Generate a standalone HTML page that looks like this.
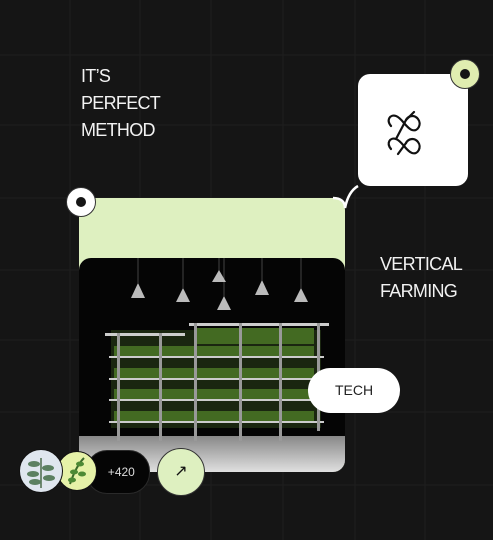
<!DOCTYPE html>
<html><head><meta charset="utf-8"><style>
body{margin:0;width:493px;height:540px;background:#151515;overflow:hidden;font-family:"Liberation Sans",sans-serif;position:relative}
.abs{position:absolute}
.t{color:#f2f2f2;font-size:18px;line-height:27px;letter-spacing:-0.7px}
</style></head><body>
<svg class="abs" style="left:0;top:0" width="493" height="540">
<g stroke="#1f1f1f" stroke-width="1">
<line x1="70" y1="0" x2="70" y2="540"/><line x1="140" y1="0" x2="140" y2="540"/><line x1="211" y1="0" x2="211" y2="540"/><line x1="283" y1="0" x2="283" y2="540"/><line x1="355" y1="0" x2="355" y2="540"/><line x1="425" y1="0" x2="425" y2="540"/>
<line x1="0" y1="55" x2="493" y2="55"/><line x1="0" y1="125" x2="493" y2="125"/><line x1="0" y1="198" x2="493" y2="198"/><line x1="0" y1="270" x2="493" y2="270"/><line x1="0" y1="340" x2="493" y2="340"/><line x1="0" y1="412" x2="493" y2="412"/><line x1="0" y1="485" x2="493" y2="485"/>
</g>
</svg>
<div class="abs t" style="left:81px;top:63px">IT’S<br>PERFECT<br>METHOD</div>
<div class="abs" style="left:358px;top:74px;width:110px;height:112px;background:#fff;border-radius:12px">
<svg width="110" height="112"><g fill="none" stroke="#111" stroke-width="2.2" stroke-linecap="round">
<path d="M33 52 C28 46 32 40 38 42 C44 44 48 54 54 56 C60 58 64 50 60 45 C56 40 50 42 48 46"/>
<path d="M33 75 C28 69 32 63 38 65 C44 67 48 77 54 79 C60 81 64 73 60 68 C56 63 50 65 48 69"/>
<path d="M48 46 L38 65 M48 69 L40 80 M56 38 L48 46"/></g></svg>
</div>
<div class="abs" style="left:450px;top:59px;width:28px;height:28px;border-radius:50%;background:#e0edb0;border:1px solid #333"><div class="abs" style="left:9px;top:9px;width:10px;height:10px;border-radius:50%;background:#151515"></div></div>
<div class="abs" style="left:79px;top:198px;width:266px;height:274px;background:#def0c0;border-radius:12px">
<div class="abs" style="left:0;top:60px;width:266px;height:214px;background:#050505;border-radius:12px;overflow:hidden">
<div class="abs" style="left:0;top:178px;width:266px;height:36px;background:linear-gradient(#888,#e0e0e0)"></div>
<svg class="abs" style="left:0;top:0" width="266" height="214">
<g stroke="#444" stroke-width="1"><line x1="59" y1="0" x2="59" y2="25"/><line x1="104" y1="0" x2="104" y2="30"/><line x1="140" y1="0" x2="140" y2="15"/><line x1="145" y1="0" x2="145" y2="38"/><line x1="183" y1="0" x2="183" y2="22"/><line x1="222" y1="0" x2="222" y2="30"/></g>
<g fill="#bbb"><path d="M52 40 L59 25 L66 40Z"/><path d="M97 44 L104 30 L111 44Z"/><path d="M133 24 L140 12 L147 24Z"/><path d="M138 52 L145 38 L152 52Z"/><path d="M176 37 L183 22 L190 37Z"/><path d="M215 44 L222 30 L229 44Z"/></g>
<rect x="32" y="72" width="210" height="98" fill="#1a2610"/>
<g fill="#436a22"><rect x="35" y="88" width="200" height="10"/><rect x="35" y="110" width="200" height="10"/><rect x="35" y="131" width="200" height="10"/><rect x="35" y="153" width="200" height="10"/><rect x="115" y="70" width="120" height="16"/></g>
<g fill="#ccc"><rect x="26" y="75" width="80" height="3"/><rect x="110" y="65" width="140" height="3"/><rect x="30" y="98" width="215" height="2"/><rect x="30" y="120" width="215" height="2"/><rect x="30" y="141" width="215" height="2"/><rect x="30" y="163" width="215" height="2"/></g>
<g fill="#999"><rect x="38" y="75" width="3" height="108"/><rect x="80" y="75" width="3" height="108"/><rect x="115" y="65" width="3" height="118"/><rect x="160" y="65" width="3" height="118"/><rect x="200" y="65" width="3" height="118"/><rect x="238" y="65" width="3" height="108"/></g>
</svg>
</div>
</div>
<svg class="abs" style="left:325px;top:180px" width="40" height="30"><path d="M8 18 C16 18 20 22 20 28 C22 18 26 10 33 6" fill="none" stroke="#fff" stroke-width="2.5"/></svg>
<div class="abs" style="left:66px;top:187px;width:28px;height:28px;border-radius:50%;background:#fff;border:1px solid #333"><div class="abs" style="left:9px;top:9px;width:10px;height:10px;border-radius:50%;background:#151515"></div></div>
<div class="abs t" style="left:380px;top:251px">VERTICAL<br>FARMING</div>
<div class="abs" style="left:308px;top:368px;width:92px;height:45px;background:#fff;border-radius:23px;color:#222;font-size:14px;line-height:45px;text-align:center">TECH</div>
<div class="abs" style="left:86px;top:450px;width:62px;height:42px;background:#050505;border-radius:21px;color:#ddd;font-size:12px;line-height:42px;text-align:center;border:1px solid #2a2a2a">&nbsp;&nbsp;+420</div>
<div class="abs" style="left:57px;top:451px;width:38px;height:38px;border-radius:50%;background:#e6f2a8;border:1px solid #111"><svg width="38" height="38"><path d="M12 32 C16 20 20 12 26 6" stroke="#3a6a2a" stroke-width="2" fill="none"/><g fill="#4d8a35"><ellipse cx="22" cy="12" rx="4" ry="2.5"/><ellipse cx="16" cy="20" rx="4" ry="2.5"/><ellipse cx="24" cy="22" rx="4" ry="2.5"/><ellipse cx="14" cy="28" rx="4" ry="2.5"/></g></svg></div>
<div class="abs" style="left:19px;top:449px;width:42px;height:42px;border-radius:50%;background:#dfe6ee;border:1px solid #111"><svg width="42" height="42"><path d="M21 38 L21 8" stroke="#4a6a4a" stroke-width="1.5"/><g fill="#5b8060"><ellipse cx="14" cy="14" rx="6" ry="3"/><ellipse cx="28" cy="18" rx="6" ry="3"/><ellipse cx="13" cy="24" rx="6" ry="3"/><ellipse cx="29" cy="28" rx="6" ry="3"/><ellipse cx="15" cy="32" rx="6" ry="3"/></g></svg></div>
<div class="abs" style="left:157px;top:448px;width:46px;height:46px;border-radius:50%;background:#def0c0;border:1px solid #333;color:#111;font-size:16px;line-height:46px;text-align:center">↗</div>
</body></html>
